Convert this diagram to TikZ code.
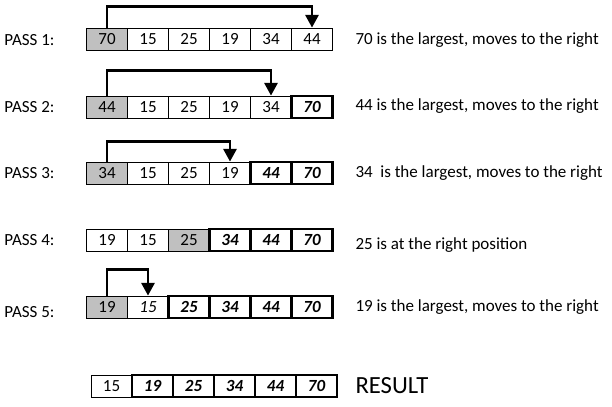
\documentclass[tikz,border=0pt]{standalone}
\usepackage{fontspec}
\setmainfont{Carlito}
\usetikzlibrary{arrows.meta}
\definecolor{cellgray}{RGB}{192,192,192}
\tikzset{every picture/.style={line width=0.75pt}}
\tikzset{
	cell/.style={draw, minimum width=30.75pt, minimum height=16.5pt, inner sep=0pt, font=\fontsize{12.75}{15}\selectfont},
	pick/.style={cell, fill=cellgray},
	done/.style={cell, line width=1.9pt, font=\fontsize{12.75}{15}\selectfont\bfseries\itshape},
	swap/.style={line width=1.6pt, -{Triangle[length=9.5pt,width=10pt]}},
	lbl/.style={anchor=west, inner sep=0pt, font=\fontsize{12.75}{15}\selectfont}
}
\begin{document}
\begin{tikzpicture}[x=0.75pt,y=0.75pt,yscale=-1,xscale=1]
	\path (0,0) rectangle (612,407); %set diagram size

	% Pass 1
	\node[pick] (p1a) at (107,39) {70};
	\node[cell] (p1b) at (148,39) {15};
	\node[cell] (p1c) at (189,39) {25};
	\node[cell] (p1d) at (230,39) {19};
	\node[cell] (p1e) at (271,39) {34};
	\node[cell] (p1f) at (312,39) {44};
	\draw[swap] (p1a.north) -- ++(0,-21) -| (p1f.north);

	% Pass 2
	\node[pick] (p2a) at (107,107) {44};
	\node[cell] (p2b) at (148,107) {15};
	\node[cell] (p2c) at (189,107) {25};
	\node[cell] (p2d) at (230,107) {19};
	\node[cell] (p2e) at (271,107) {34};
	\node[done] (p2f) at (312,107) {70};
	\draw[swap] (p2a.north) -- ++(0,-25) -| (p2e.north);

	% Pass 3
	\node[pick] (p3a) at (107,173) {34};
	\node[cell] (p3b) at (148,173) {15};
	\node[cell] (p3c) at (189,173) {25};
	\node[cell] (p3d) at (230,173) {19};
	\node[done] (p3e) at (271,173) {44};
	\node[done] (p3f) at (312,173) {70};
	\draw[swap] (p3a.north) -- ++(0,-20) -| (p3d.north);

	% Pass 4
	\node[cell] (p4a) at (107,240) {19};
	\node[cell] (p4b) at (148,240) {15};
	\node[pick] (p4c) at (189,240) {25};
	\node[done] (p4d) at (230,240) {34};
	\node[done] (p4e) at (271,240) {44};
	\node[done] (p4f) at (312,240) {70};

	% Pass 5
	\node[pick] (p5a) at (107,307) {19};
	\node[cell] (p5b) at (148,307) {\itshape 15};
	\node[done] (p5c) at (189,307) {25};
	\node[done] (p5d) at (230,307) {34};
	\node[done] (p5e) at (271,307) {44};
	\node[done] (p5f) at (312,307) {70};
	\draw[swap] (p5a.north) -- ++(0,-26) -| (p5b.north);

	% Result
	\node[cell] (ra) at (111.5,386) {15};
	\node[done] (rb) at (152.5,386) {19};
	\node[done] (rc) at (193.5,386) {25};
	\node[done] (rd) at (234.5,386) {34};
	\node[done] (re) at (275.5,386) {44};
	\node[done] (rf) at (316.5,386) {70};

	% Text Node
	\node[lbl] (l1) at (4,40) {PASS 1:};
	\node[lbl] (l2) at (4,107) {PASS 2:};
	\node[lbl] (l3) at (4,173) {PASS 3:};
	\node[lbl] (l4) at (4,240) {PASS 4:};
	\node[lbl] (l5) at (4,312) {PASS 5:};
	% Text Node
	\node[lbl] (t1) at (355,40) {70 is the largest, moves to the right};
	\node[lbl] (t2) at (355,106) {44 is the largest, moves to the right};
	\node[lbl] (t3) at (355,173) {34~ is the largest, moves to the right};
	\node[lbl] (t4) at (355,245) {25 is at the right position};
	\node[lbl] (t5) at (355,307) {19 is the largest, moves to the right};
	\node[lbl, font=\fontsize{18.5}{22}\selectfont] (tr) at (355,386) {RESULT};

\end{tikzpicture}
\end{document}
